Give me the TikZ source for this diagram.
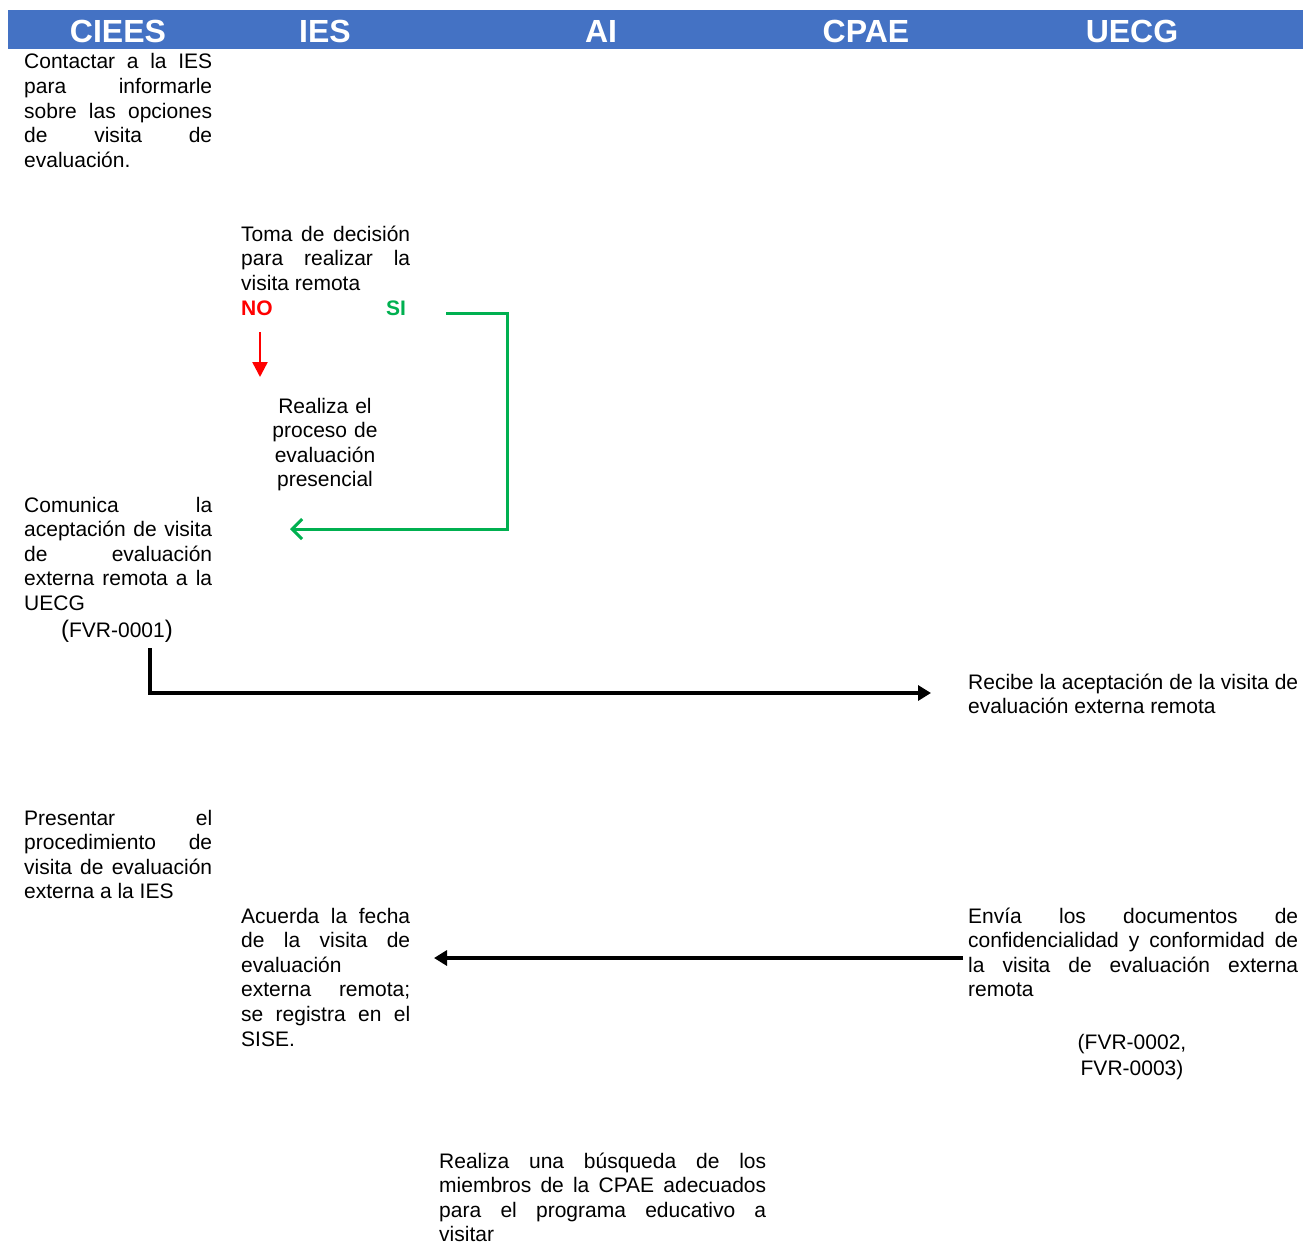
\documentclass[tikz,border=0pt]{standalone}
\usepackage{fontspec}
\setmainfont{Liberation Sans}
\usepackage{xcolor}
\usetikzlibrary{arrows.meta}
\definecolor{lanebar}{HTML}{4472C4}
\definecolor{yesgreen}{HTML}{00B050}
\tolerance=10000
\hbadness=10000
\hyphenpenalty=10000

\begin{document}
\begin{tikzpicture}[x=1pt,y=-1pt,
	lane/.style={text=white, font=\fontsize{32}{38}\selectfont\bfseries, anchor=base, inner sep=0pt},
	task/.style={anchor=base west, inner sep=0pt, align=justify, font=\fontsize{21}{24.6}\selectfont},
	flow/.style={line width=3.2pt, -{Triangle[length=13pt,width=15pt]}}]
	\useasboundingbox (0,0) rectangle (1303,1247);
	
	% header
	\fill[lanebar] (8,10) rectangle (1303,49);
	\node[lane] (ciees) at (118,43) {CIEES};
	\node[lane] (ies) at (325,43) {IES};
	\node[lane] (ai) at (601,43) {AI};
	\node[lane] (cpae) at (866,43) {CPAE};
	\node[lane] (uecg) at (1132,43) {UECG};
	
	% CIEES
	\node[task, text width=188pt] (contactar) at (24,69) {Contactar a la IES\linebreak para informarle\linebreak sobre las opciones\linebreak de visita de\linebreak evaluación.};
	\node[task, text width=188pt] (comunica) at (24,512) {Comunica la\linebreak aceptación de visita\linebreak de evaluación\linebreak externa remota a la\linebreak UECG};
	\node[task, anchor=base] (fvr1) at (117,637) {{\fontsize{24}{24.6}\selectfont(}FVR-0001{\fontsize{24}{24.6}\selectfont)}};
	\node[task, text width=188pt] (presentar) at (24,825) {Presentar el\linebreak procedimiento de\linebreak visita de evaluación\linebreak externa a la IES};
	
	% IES
	\node[task, text width=169pt] (toma) at (241,241) {Toma de decisión\linebreak para realizar la\linebreak visita remota};
	\node[task, text=red, font=\fontsize{21}{24.6}\selectfont\bfseries] (no) at (241,315) {NO};
	\node[task, text=yesgreen, font=\fontsize{21}{24.6}\selectfont\bfseries] (si) at (386,315) {SI};
	\node[task, anchor=base, text width=150pt, align=center] (presencial) at (325,413) {Realiza el\\proceso de\\evaluación\\presencial};
	\node[task, text width=169pt] (acuerda) at (241,923) {Acuerda la fecha\linebreak de la visita de\linebreak evaluación\linebreak externa remota;\linebreak se registra en el\linebreak SISE.};
	
	% AI
	\node[task, text width=327pt] (busqueda) at (439,1168) {Realiza una búsqueda de los\linebreak miembros de la CPAE adecuados\linebreak para el programa educativo a\linebreak visitar};
	
	% UECG
	\node[task, text width=330pt] (recibe) at (968,689) {Recibe la aceptación de la visita de\linebreak evaluación externa remota};
	\node[task, text width=330pt] (envia) at (968,923) {Envía los documentos de\linebreak confidencialidad y conformidad de\linebreak la visita de evaluación externa\linebreak remota};
	\node[task, anchor=base, text width=140pt, align=center, font=\fontsize{21}{26.5}\selectfont] (fvr23) at (1132,1049) {(FVR-0002,\\FVR-0003)};
	
	% connectors
	\coordinate (no-out) at (260,332);
	\coordinate (no-in) at (260,377);
	\coordinate (si-out) at (446,313);
	\coordinate (si-turn) at (507,313);
	\coordinate (si-in) at (290,529);
	\coordinate (fvr1-out) at (150,648);
	\coordinate (recibe-in) at (931,693);
	\coordinate (envia-out) at (963,958);
	\coordinate (acuerda-in) at (434,958);
	
	\draw[red, line width=2.5pt, -{Triangle[length=15pt,width=15pt]}] (no-out) -- (no-in);
	\draw[yesgreen, line width=3pt, -{Straight Barb[length=10pt,width=20pt]}] (si-out) -- (si-turn) |- (si-in);
	\draw[flow] (fvr1-out) |- (recibe-in);
	\draw[flow] (envia-out) -- (acuerda-in);
\end{tikzpicture}
\end{document}
